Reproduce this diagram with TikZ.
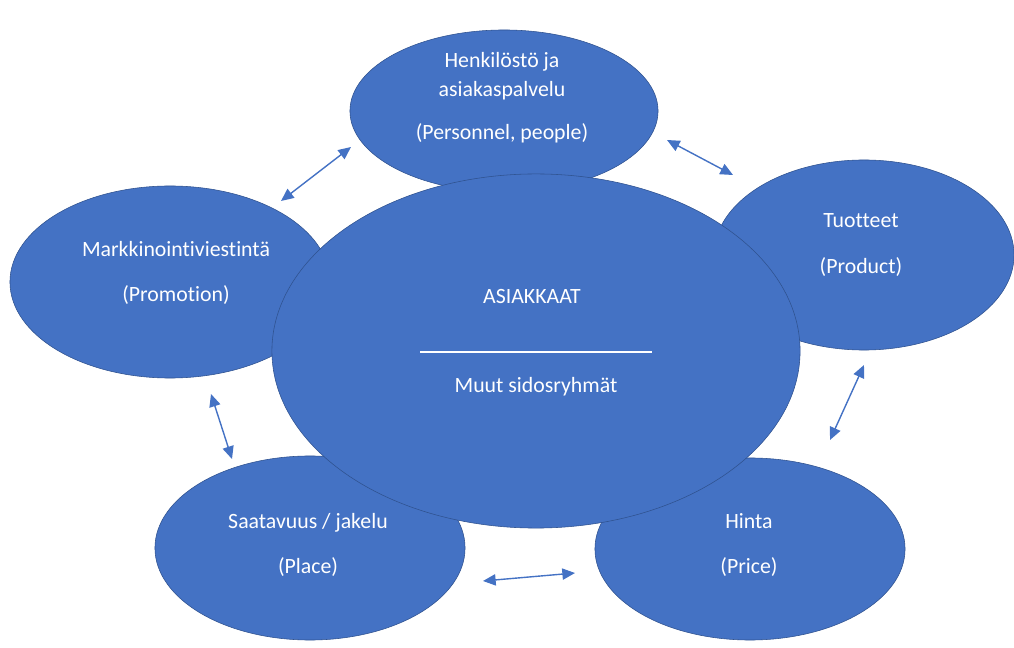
\documentclass[tikz,border=0pt]{standalone}
\usepackage{fontspec}
\setmainfont{Carlito}[Ligatures=NoCommon]
\usetikzlibrary{shapes.geometric,arrows.meta}
\definecolor{officeblue}{HTML}{4472C4}
\definecolor{officeedge}{HTML}{2F528F}

\begin{document}
\begin{tikzpicture}[x=0.025cm,y=-0.025cm,
    blob/.style = {draw=officeedge, line width=0.4pt, fill=officeblue, ellipse, inner sep=0pt},
    radii/.style 2 args = {minimum width=#1*0.05cm, minimum height=#2*0.05cm},
    txt/.style = {text=white, align=center, inner sep=0pt, font=\fontsize{15.5}{20}\selectfont},
    link/.style = {draw=officeblue, line width=1pt, {Triangle[length=9pt,width=8pt]}-{Triangle[length=9pt,width=8pt]}}]
    \useasboundingbox (0,0) rectangle (1014,648);

    % outer ellipses
    \node[blob, radii={154}{81}] (people) at (504,111) {};
    \node[blob, radii={160}{96}] (promo) at (170,282) {};
    \node[blob, radii={150}{95}] (product) at (864,255) {};
    \node[blob, radii={155}{92}] (place) at (310,548) {};
    \node[blob, radii={155}{91}] (price) at (750,549) {};
    % centre on top
    \node[blob, radii={264}{177}] (customers) at (536,351) {};

    \node[txt] (peopletxt) at (502,98) {Henkilöstö ja\\asiakaspalvelu\\[11pt](Personnel, people)};
    \node[txt] (promotxt) at (176,273) {Markkinointiviestintä\\[12.5pt](Promotion)};
    \node[txt] (producttxt) at (861,245) {Tuotteet\\[12.5pt](Product)};
    \node[txt] (placetxt) at (308,545) {Saatavuus / jakelu\\[12.5pt](Place)};
    \node[txt] (pricetxt) at (749,545) {Hinta\\[12.5pt](Price)};
    \node[txt] (custtxt) at (532,297) {ASIAKKAAT};
    \node[txt] (othertxt) at (536,387) {Muut sidosryhmät};

    \coordinate (sepL) at (420,352);
    \coordinate (sepR) at (652,352);
    \draw[white, line width=1pt] (sepL) -- (sepR);

    % arrows in the gaps
    \coordinate (a1) at (281,201);
    \coordinate (b1) at (351,147);
    \coordinate (a2) at (667,140);
    \coordinate (b2) at (733,175);
    \coordinate (a3) at (864,365);
    \coordinate (b3) at (830,440);
    \coordinate (a4) at (483,581);
    \coordinate (b4) at (575,573);
    \coordinate (a5) at (211,394);
    \coordinate (b5) at (232,459);
    \draw[link] (a1) -- (b1);
    \draw[link] (a2) -- (b2);
    \draw[link] (a3) -- (b3);
    \draw[link] (a4) -- (b4);
    \draw[link] (a5) -- (b5);
\end{tikzpicture}
\end{document}
